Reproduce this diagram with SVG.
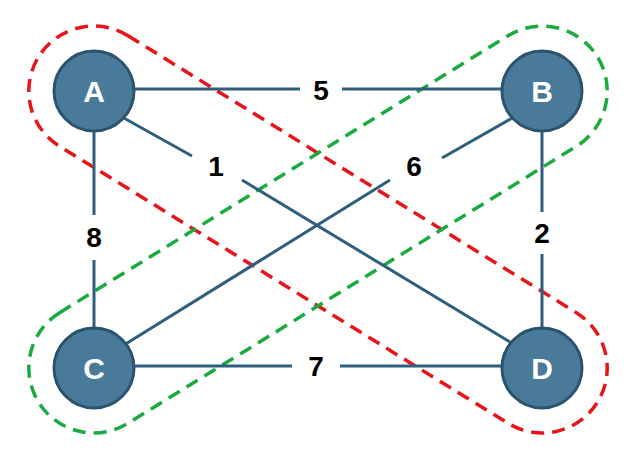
<svg xmlns="http://www.w3.org/2000/svg" width="640" height="458" viewBox="0 0 640 458">
<style>
.e{stroke:#2f5f7e;stroke-width:3;fill:none}
.n{fill:#4a7a99;stroke:#2c536e;stroke-width:3}
.nt{font-family:"Liberation Sans",Arial,sans-serif;font-size:30px;font-weight:bold;fill:#fff;text-anchor:middle;dominant-baseline:central}
.l{font-family:"Liberation Sans",Arial,sans-serif;font-size:28px;font-weight:bold;fill:#000;text-anchor:middle;dominant-baseline:central}
.d{fill:none;stroke-width:3.5;stroke-dasharray:13,8}
</style>
<rect width="640" height="458" fill="#fff"/>
<g id="loops">
<rect class="d" stroke="#e8141b" x="-328.5" y="-65" width="657" height="130" rx="65" transform="translate(318,229.5) rotate(31.7)"/>
<rect class="d" stroke="#1aab40" x="-328.5" y="-65" width="657" height="130" rx="65" transform="translate(318,229.5) rotate(-31.7)"/>
</g>
<g id="connectors">
<path class="e" d="M134,89H300M342,89H502"/>
<path class="e" d="M94,131V215M94,260V328"/>
<path class="e" d="M542,131V212M542,254V328"/>
<path class="e" d="M134,366H292M340,366H502"/>
<path class="e" d="M122,117L192,156M242,180L510,342"/>
<path class="e" d="M514,117L442,158M390,180L124,345"/>
<text class="l" x="321" y="90">5</text>
<text class="l" x="216" y="166">1</text>
<text class="l" x="414" y="166">6</text>
<text class="l" x="94" y="237">8</text>
<text class="l" x="542" y="233">2</text>
<text class="l" x="316" y="366">7</text>
</g>
<g id="A"><circle class="n" cx="94" cy="91" r="40"/><text class="nt" x="94" y="91">A</text></g>
<g id="B"><circle class="n" cx="542" cy="91" r="40"/><text class="nt" x="542" y="91">B</text></g>
<g id="C"><circle class="n" cx="94" cy="368" r="40"/><text class="nt" x="94" y="368">C</text></g>
<g id="D"><circle class="n" cx="542" cy="368" r="40"/><text class="nt" x="542" y="368">D</text></g>
</svg>
